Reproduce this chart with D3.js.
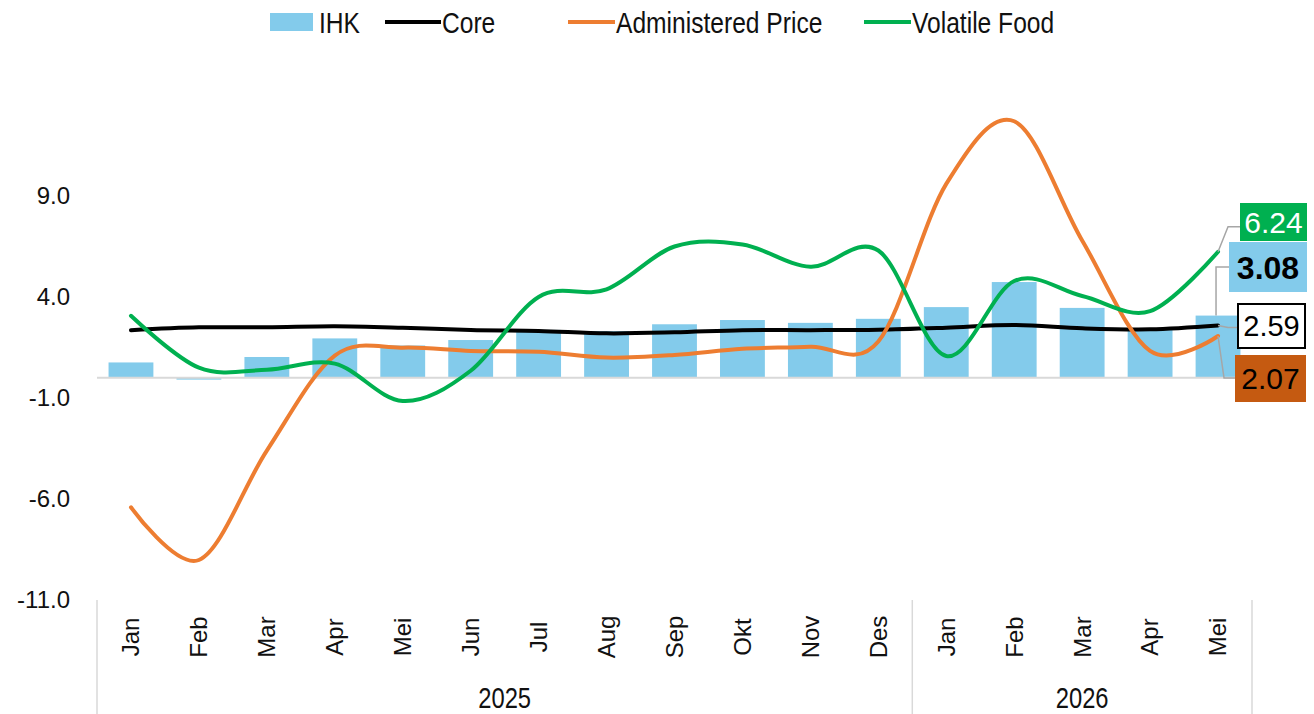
<!DOCTYPE html>
<html>
<head>
<meta charset="utf-8">
<script src="https://cdn.jsdelivr.net/npm/d3@7"></script>
<style>
  body { margin: 0; background: #fff; }
  text { font-family: "Liberation Sans", Arial, sans-serif; }
</style>
</head>
<body>
<svg id="chart" width="1314" height="714"></svg>
<script>
// months, two years
var months = ["Jan","Feb","Mar","Apr","Mei","Jun","Jul","Aug","Sep","Okt","Nov","Des","Jan","Feb","Mar","Apr","Mei"];
var years = [{ label: "2025", from: 0, to: 11 }, { label: "2026", from: 12, to: 16 }];

// series (yoy %)
var ihk   = [0.76, -0.09, 1.03, 1.95, 1.60, 1.87, 2.37, 2.31, 2.65, 2.86, 2.72, 2.92, 3.50, 4.74, 3.46, 2.42, 3.08];
var core  = [2.36, 2.50, 2.50, 2.55, 2.48, 2.37, 2.32, 2.20, 2.25, 2.36, 2.36, 2.38, 2.48, 2.61, 2.45, 2.40, 2.59];
var adm   = [-6.41, -9.02, -3.60, 1.10, 1.49, 1.33, 1.29, 1.00, 1.13, 1.44, 1.54, 1.80, 9.60, 12.70, 6.80, 1.33, 2.07];
var vf    = [3.07, 0.50, 0.40, 0.70, -1.15, 0.35, 4.00, 4.38, 6.50, 6.60, 5.50, 6.30, 1.08, 4.79, 4.05, 3.30, 6.24];

var yTicks = [-11, -6, -1, 4, 9];

var svg = d3.select("#chart");

var x = d3.scaleBand()
    .domain(d3.range(months.length))
    .range([97, 1252])
    .paddingInner(0.34)
    .paddingOuter(0.17);

var y = d3.scaleLinear()
    .domain([-11, 14])
    .range([600, 95]);

var cx = function (i) { return x(i) + x.bandwidth() / 2; };
var fmt1 = function (d) { return d3.format(".1f")(d).replace("\u2212", "-"); };

// y tick labels (no axis line)
svg.append("g").selectAll("text")
    .data(yTicks)
    .enter().append("text")
    .attr("x", 70)
    .attr("y", function (d) { return y(d); })
    .attr("dy", "0.35em")
    .attr("text-anchor", "end")
    .style("font-size", "24px")
    .style("fill", "#111")
    .text(fmt1);

// bars
svg.append("g").selectAll("rect")
    .data(ihk)
    .enter().append("rect")
    .attr("x", function (d, i) { return x(i); })
    .attr("width", x.bandwidth())
    .attr("y", function (d) { return y(Math.max(0, d)); })
    .attr("height", function (d) { return Math.abs(y(d) - y(0)); })
    .style("fill", "#83CBEB");

// zero line
svg.append("line")
    .attr("x1", 97).attr("x2", 1252)
    .attr("y1", y(0)).attr("y2", y(0))
    .style("stroke", "#d9d9d9")
    .style("stroke-width", 2);

// lines, smoothed like excel
var line = d3.line()
    .x(function (d, i) { return cx(i); })
    .y(function (d) { return y(d); })
    .curve(d3.curveCardinal.tension(0));

var series = [
    { values: core, color: "#000000" },
    { values: adm,  color: "#ED7D31" },
    { values: vf,   color: "#00B050" }
];

series.forEach(function (s) {
    svg.append("path")
        .attr("d", line(s.values))
        .style("fill", "none")
        .style("stroke", s.color)
        .style("stroke-width", 4)
        .style("stroke-linecap", "round");
});

// category axis (two levels)
var yearSplit = (x(11) + x.bandwidth() + x(12)) / 2;
var axisG = svg.append("g");
[97, yearSplit, 1252].forEach(function (xx) {
    axisG.append("line")
        .attr("x1", xx).attr("x2", xx)
        .attr("y1", 600).attr("y2", 714)
        .style("stroke", "#d9d9d9")
        .style("stroke-width", 1.5);
});

axisG.selectAll("text.month")
    .data(months)
    .enter().append("text")
    .attr("class", "month")
    .attr("transform", function (d, i) { return "translate(" + cx(i) + ",637) rotate(-90)"; })
    .attr("text-anchor", "middle")
    .attr("dy", "0.35em")
    .style("font-size", "24px")
    .style("fill", "#111")
    .text(function (d) { return d; });

// narrow text: regular font squeezed horizontally
function narrowText(g, tx, ty, size, anchor, str) {
    return g.append("text")
        .attr("transform", "translate(" + tx + "," + ty + ") scale(0.82,1)")
        .attr("text-anchor", anchor)
        .style("font-size", size)
        .style("fill", "#111")
        .text(str);
}

years.forEach(function (d) {
    var left = d.from === 0 ? 97 : yearSplit;
    var right = d.to === months.length - 1 ? 1252 : yearSplit;
    narrowText(axisG, (left + right) / 2, 708, "29px", "middle", d.label);
});

// legend
var legend = svg.append("g");
legend.append("rect")
    .attr("x", 270).attr("y", 13).attr("width", 43).attr("height", 18)
    .style("fill", "#83CBEB");
narrowText(legend, 319, 33, "30px", "start", "IHK");

var legendLines = [
    { x1: 385, x2: 441, color: "#000000", label: "Core" },
    { x1: 568, x2: 615, color: "#ED7D31", label: "Administered Price" },
    { x1: 864, x2: 911, color: "#00B050", label: "Volatile Food" }
];
legendLines.forEach(function (l) {
    legend.append("line")
        .attr("x1", l.x1).attr("x2", l.x2)
        .attr("y1", 22).attr("y2", 22)
        .style("stroke", l.color)
        .style("stroke-width", 4);
    narrowText(legend, l.x2 + 1, 33, "30px", "start", l.label);
});

// end-value callouts
var last = months.length - 1;
var lx = cx(last);

function callout(pts, box, fill, stroke, textColor, weight, size, value) {
    svg.append("polyline")
        .attr("points", pts.map(function (p) { return p.join(","); }).join(" "))
        .style("fill", "none")
        .style("stroke", "#a6a6a6")
        .style("stroke-width", 1.5);
    svg.append("rect")
        .attr("x", box[0]).attr("y", box[1])
        .attr("width", box[2]).attr("height", box[3])
        .style("fill", fill)
        .style("stroke", stroke)
        .style("stroke-width", stroke === "none" ? 0 : 2);
    svg.append("text")
        .attr("x", box[0] + box[2] / 2)
        .attr("y", box[1] + box[3] / 2)
        .attr("dy", "0.36em")
        .attr("text-anchor", "middle")
        .style("font-size", size)
        .style("font-weight", weight)
        .style("fill", textColor)
        .text(d3.format(".2f")(value));
}

var vfY = y(vf[last]), ihkY = y(ihk[last]), coreY = y(core[last]), admY = y(adm[last]);

callout([[lx, vfY], [lx + 10, vfY - 25], [1240, vfY - 25]],
    [1240, 203, 67, 38], "#00B050", "none", "#fff", "normal", "30px", vf[last]);
callout([[lx - 2, ihkY], [lx - 2, 267], [1229, 267]],
    [1229, 242, 78, 50], "#83CBEB", "none", "#000", "bold", "32px", ihk[last]);
callout([[lx, coreY], [lx + 10, coreY + 2], [1238, coreY + 2]],
    [1238, 304, 67, 44], "#fff", "#000", "#000", "normal", "29px", core[last]);
callout([[lx, admY], [lx + 6, 378], [1235, 378]],
    [1235, 355, 71, 47], "#C55A11", "none", "#000", "normal", "30px", adm[last]);
</script>
</body>
</html>
